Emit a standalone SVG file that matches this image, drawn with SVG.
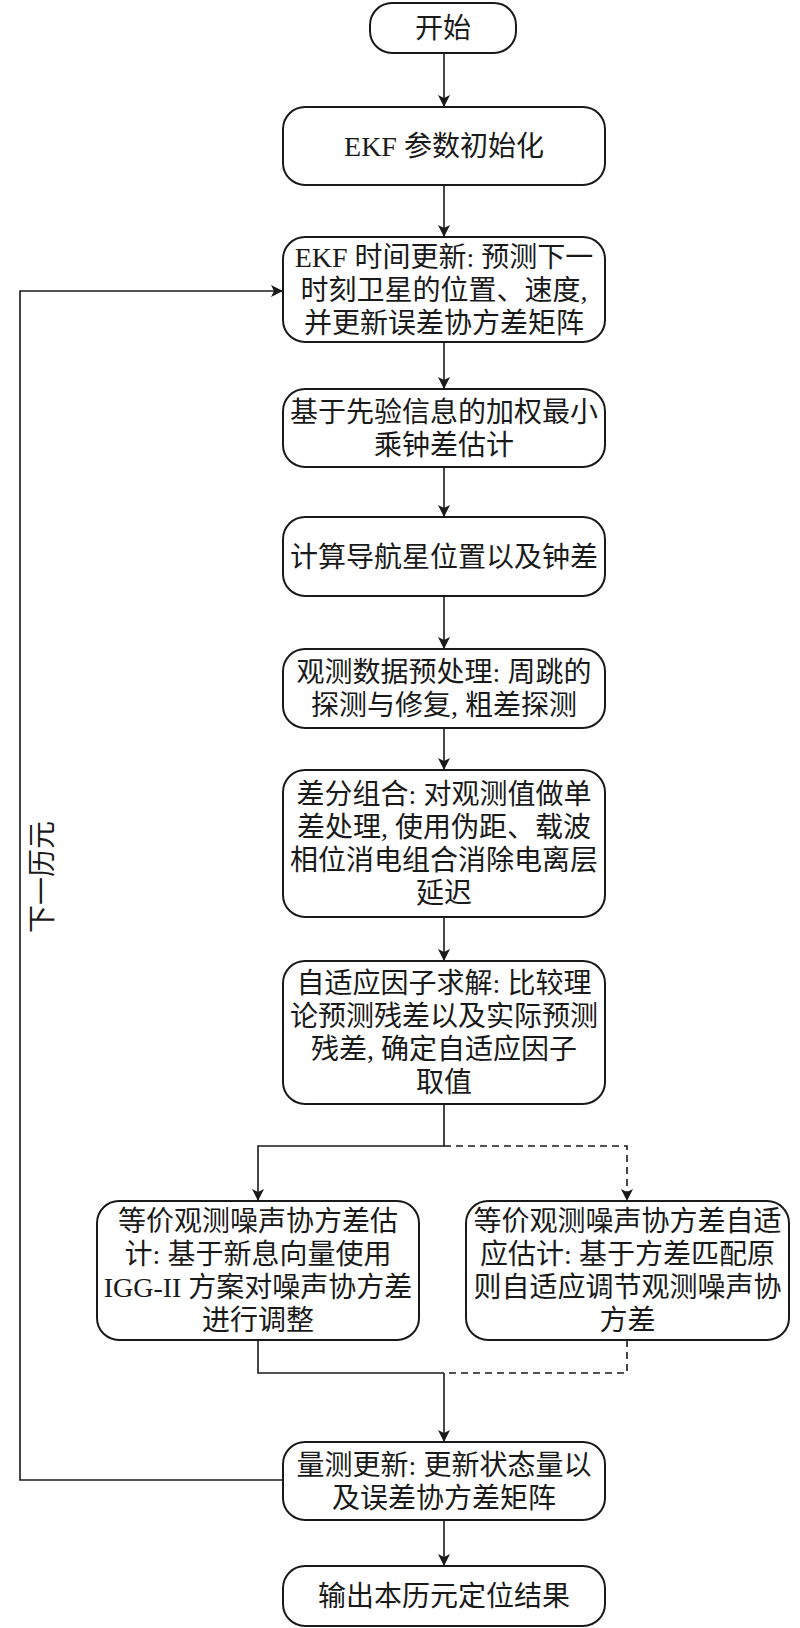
<svg xmlns="http://www.w3.org/2000/svg" width="800" height="1628" viewBox="0 0 800 1628">
<defs>
<style>
.box{fill:#fff;stroke:#1a1a1a;stroke-width:2}
.t{font-family:"Liberation Serif","Noto Sans CJK SC",serif;font-size:28px;fill:#1a1a1a;text-anchor:middle}
.c{fill:none;stroke:#1a1a1a;stroke-width:1.6}
.d{stroke-dasharray:7 5}
</style>
<marker id="ah" markerUnits="userSpaceOnUse" markerWidth="12" markerHeight="12" refX="12" refY="6" orient="auto">
<path d="M0,0 L12,6 L0,12 L3,6 z" fill="#1a1a1a"/>
</marker>
</defs>
<rect width="800" height="1628" fill="#fff"/>
<g id="connectors">
<path class="c" d="M444,53 V107" marker-end="url(#ah)"/>
<path class="c" d="M444,185 V237" marker-end="url(#ah)"/>
<path class="c" d="M444,342 V389" marker-end="url(#ah)"/>
<path class="c" d="M444,467 V517" marker-end="url(#ah)"/>
<path class="c" d="M444,596 V649" marker-end="url(#ah)"/>
<path class="c" d="M444,728 V770" marker-end="url(#ah)"/>
<path class="c" d="M444,917 V961" marker-end="url(#ah)"/>
<path class="c" d="M444,1104 V1146 H258 V1201" marker-end="url(#ah)"/>
<path class="c d" d="M444,1146 H627 V1201" marker-end="url(#ah)"/>
<path class="c" d="M258,1340 V1373 H444"/>
<path class="c d" d="M627,1340 V1373 H444"/>
<path class="c" d="M444,1373 V1442" marker-end="url(#ah)"/>
<path class="c" d="M444,1520 V1566" marker-end="url(#ah)"/>
<path class="c" d="M283,1480 H20 V291 H283" marker-end="url(#ah)"/>
<text class="t" transform="translate(52,877) rotate(-90)">下一历元</text>
</g>
<g id="start">
<rect class="box" x="370" y="3" width="146" height="50" rx="22"/>
<text class="t" x="443" y="38">开始</text>
</g>
<g id="init">
<rect class="box" x="283" y="107" width="322" height="78" rx="22"/>
<text class="t" x="444" y="156">EKF 参数初始化</text>
</g>
<g id="time-update">
<rect class="box" x="283" y="237" width="322" height="105" rx="22"/>
<text class="t" x="444" y="266.5">EKF 时间更新: 预测下一</text>
<text class="t" x="444" y="299.5">时刻卫星的位置、速度,</text>
<text class="t" x="444" y="332.5">并更新误差协方差矩阵</text>
</g>
<g id="wls">
<rect class="box" x="283" y="389" width="322" height="78" rx="22"/>
<text class="t" x="444" y="421.5">基于先验信息的加权最小</text>
<text class="t" x="444" y="454.5">乘钟差估计</text>
</g>
<g id="nav">
<rect class="box" x="283" y="517" width="322" height="79" rx="22"/>
<text class="t" x="444" y="566.5">计算导航星位置以及钟差</text>
</g>
<g id="preprocess">
<rect class="box" x="283" y="649" width="322" height="79" rx="22"/>
<text class="t" x="444" y="682">观测数据预处理: 周跳的</text>
<text class="t" x="444" y="715">探测与修复, 粗差探测</text>
</g>
<g id="diff">
<rect class="box" x="283" y="770" width="322" height="147" rx="22"/>
<text class="t" x="444" y="804">差分组合: 对观测值做单</text>
<text class="t" x="444" y="837">差处理, 使用伪距、载波</text>
<text class="t" x="444" y="870">相位消电组合消除电离层</text>
<text class="t" x="444" y="903">延迟</text>
</g>
<g id="adaptive">
<rect class="box" x="283" y="961" width="322" height="143" rx="22"/>
<text class="t" x="444" y="993">自适应因子求解: 比较理</text>
<text class="t" x="444" y="1026">论预测残差以及实际预测</text>
<text class="t" x="444" y="1059">残差, 确定自适应因子</text>
<text class="t" x="444" y="1092">取值</text>
</g>
<g id="igg">
<rect class="box" x="97" y="1201" width="322" height="139" rx="22"/>
<text class="t" x="258" y="1231">等价观测噪声协方差估</text>
<text class="t" x="258" y="1264">计: 基于新息向量使用</text>
<text class="t" x="258" y="1297">IGG-II 方案对噪声协方差</text>
<text class="t" x="258" y="1330">进行调整</text>
</g>
<g id="vm">
<rect class="box" x="466" y="1201" width="323" height="139" rx="22"/>
<text class="t" x="627.5" y="1231">等价观测噪声协方差自适</text>
<text class="t" x="627.5" y="1264">应估计: 基于方差匹配原</text>
<text class="t" x="627.5" y="1297">则自适应调节观测噪声协</text>
<text class="t" x="627.5" y="1330">方差</text>
</g>
<g id="meas">
<rect class="box" x="283" y="1442" width="322" height="78" rx="22"/>
<text class="t" x="444" y="1474.5">量测更新: 更新状态量以</text>
<text class="t" x="444" y="1507.5">及误差协方差矩阵</text>
</g>
<g id="output">
<rect class="box" x="283" y="1566" width="322" height="60" rx="22"/>
<text class="t" x="444" y="1606">输出本历元定位结果</text>
</g>
</svg>
